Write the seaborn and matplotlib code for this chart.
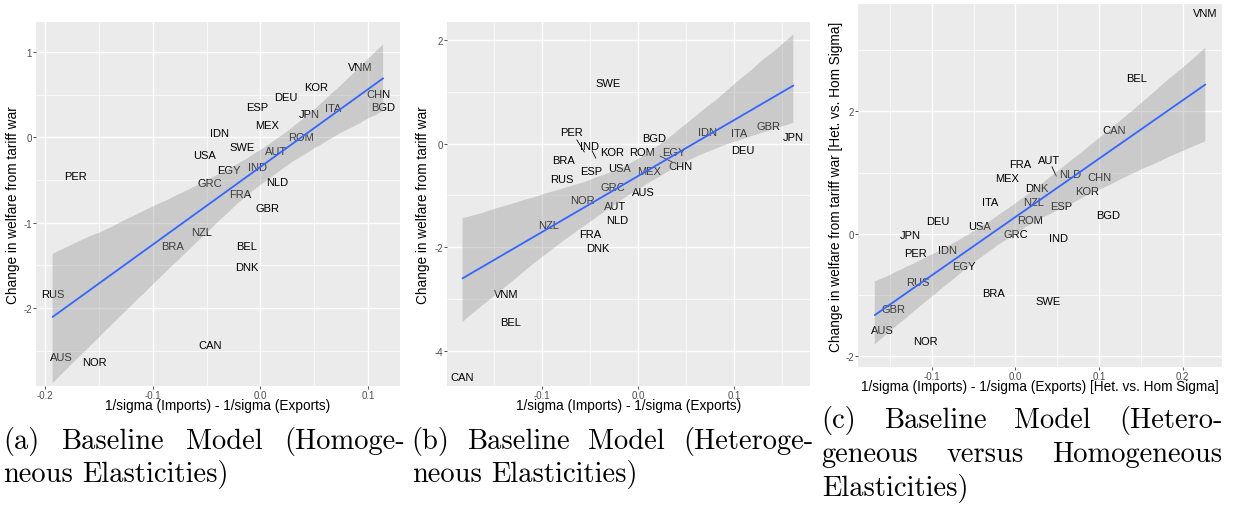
import numpy as np
import pandas as pd
import matplotlib
matplotlib.use("Agg")
import matplotlib.pyplot as plt
import seaborn as sns

# ---------------- data ----------------
countries_a = ["VNM", "KOR", "DEU", "ESP", "CHN", "ITA", "BGD", "JPN", "MEX", "IDN",
               "ROM", "SWE", "AUT", "USA", "PER", "EGY", "IND", "GRC", "NLD", "FRA",
               "GBR", "NZL", "BRA", "BEL", "DNK", "RUS", "CAN", "AUS", "NOR"]
x_a = [0.093, 0.052, 0.024, -0.003, 0.110, 0.068, 0.114, 0.045, 0.006, -0.038,
       0.038, -0.017, 0.015, -0.052, -0.172, -0.029, -0.003, -0.047, 0.016, -0.019,
       0.007, -0.055, -0.082, -0.013, -0.013, -0.193, -0.047, -0.185, -0.154]
y_a = [0.83, 0.59, 0.47, 0.36, 0.51, 0.34, 0.35, 0.27, 0.15, 0.05,
       0.00, -0.11, -0.16, -0.21, -0.45, -0.38, -0.35, -0.54, -0.52, -0.66,
       -0.83, -1.11, -1.27, -1.27, -1.52, -1.83, -2.43, -2.57, -2.63]

countries_b = ["SWE", "PER", "IND", "BGD", "IDN", "ITA", "GBR", "JPN", "DEU", "KOR",
               "ROM", "EGY", "BRA", "CHN", "USA", "ESP", "MEX", "RUS", "GRC", "AUS",
               "NOR", "AUT", "NLD", "NZL", "FRA", "DNK", "VNM", "BEL", "CAN"]
x_b = [-0.031, -0.056, -0.044, 0.017, 0.072, 0.106, 0.136, 0.162, 0.109, -0.027,
       0.004, 0.037, -0.078, 0.023, -0.019, -0.049, 0.012, -0.079, -0.026, 0.006,
       -0.058, -0.024, -0.022, -0.093, -0.050, -0.042, -0.137, -0.133, -0.183]
y_b = [1.17, -0.16, -0.28, 0.11, 0.23, 0.21, 0.35, 0.12, -0.12, -0.17,
       -0.17, -0.17, -0.32, -0.24, -0.47, -0.53, -0.52, -0.68, -0.83, -0.94,
       -1.08, -1.20, -1.47, -1.58, -1.74, -2.02, -2.90, -3.45, -4.36]

countries_c = ["VNM", "BEL", "CAN", "FRA", "AUT", "NLD", "MEX", "CHN", "DNK", "KOR",
               "ITA", "NZL", "ESP", "BGD", "DEU", "ROM", "USA", "JPN", "GRC", "IND",
               "PER", "IDN", "EGY", "RUS", "BRA", "SWE", "GBR", "AUS", "NOR"]
x_c = [0.227, 0.145, 0.118, 0.006, 0.049, 0.065, -0.010, 0.101, 0.026, 0.086,
       -0.030, 0.022, 0.055, 0.111, -0.093, 0.018, -0.043, -0.126, 0.001, 0.051,
       -0.119, -0.081, -0.062, -0.116, -0.026, 0.039, -0.146, -0.168, -0.107]
y_c = [3.49, 2.54, 1.70, 1.14, 0.94, 0.98, 0.91, 0.92, 0.75, 0.69,
       0.51, 0.52, 0.46, 0.31, 0.21, 0.23, 0.13, -0.02, -0.01, -0.07,
       -0.31, -0.27, -0.53, -0.79, -0.97, -1.10, -1.23, -1.57, -1.75]

# repelled label offsets (label position minus point, data units)
nudge_b = {"PER": (-0.013, 0.39), "IND": (-0.0065, 0.24), "CHN": (0.021, -0.19), "CAN": (0.0, -0.15)}
nudge_c = {"AUT": (-0.0088, 0.26), "VNM": (0.0, 0.12), "AUS": (0.009, 0.0)}
leaders_b = ["PER", "IND", "CHN"]
leaders_c = ["AUT"]

xticks_a = [-0.2, -0.1, 0.0, 0.1]
xticklabels_a = ["-0.2", "-0.1", "0.0", "0.1"]
yticks_a = [-2, -1, 0, 1]
yticklabels_a = ["-2", "-1", "0", "1"]
xticks_b = [-0.1, 0.0, 0.1]
xticklabels_b = ["-0.1", "0.0", "0.1"]
yticks_b = [-4, -2, 0, 2]
yticklabels_b = ["-4", "-2", "0", "2"]
xticks_c = [-0.1, 0.0, 0.1, 0.2]
xticklabels_c = ["-0.1", "0.0", "0.1", "0.2"]
yticks_c = [-2, 0, 2]
yticklabels_c = ["-2", "0", "2"]

xlabel_ab = "1/sigma (Imports) - 1/sigma (Exports)"
ylabel_ab = "Change in welfare from tariff war"
xlabel_c = "1/sigma (Imports) - 1/sigma (Exports) [Het. vs. Hom Sigma]"
ylabel_c = "Change in welfare from tariff war [Het. vs. Hom Sigma]"

caption_a = ["(a) Baseline Model (Homoge-", "neous Elasticities)"]
caption_b = ["(b) Baseline Model (Heteroge-", "neous Elasticities)"]
caption_c = ["(c) Baseline Model (Hetero-", "geneous versus Homogeneous", "Elasticities)"]

# ---------------- style ----------------
sns.set_theme(style="darkgrid")
plt.rcParams["font.family"] = ["Liberation Sans", "DejaVu Sans"]
plt.rcParams["axes.unicode_minus"] = False

W, H = 1233, 510
fig = plt.figure(figsize=(W / 100, H / 100), dpi=100)
fig.patch.set_facecolor("white")

def px_axes(left, top, right, bottom):
    return fig.add_axes([left / W, 1 - bottom / H, (right - left) / W, (bottom - top) / H])

def panel(ax, names, xs, ys, xlim, ylim, xt, xtl, yt, ytl, xminor, yminor,
          xlabel, ylabel, nudge, leaders, ylab_x, xlab_y):
    df = pd.DataFrame({"x": xs, "y": ys, "name": names})
    ax.set_facecolor("#EBEBEB")
    for s in ax.spines.values():
        s.set_visible(False)
    ax.grid(False)
    for v in xminor:
        ax.axvline(v, color="white", lw=0.5, zorder=0)
    for v in yminor:
        ax.axhline(v, color="white", lw=0.5, zorder=0)
    for v in xt:
        ax.axvline(v, color="white", lw=1.0, zorder=0)
    for v in yt:
        ax.axhline(v, color="white", lw=1.0, zorder=0)

    # labels (drawn below the ribbon so the band greys them)
    for _, r in df.iterrows():
        dx, dy = nudge.get(r["name"], (0.0, 0.0))
        ax.text(r["x"] + dx, r["y"] + dy, r["name"], ha="center", va="center",
                fontsize=8.0, color="black", zorder=2)
        if r["name"] in leaders:
            ax.plot([r["x"], r["x"] + 0.6 * dx], [r["y"], r["y"] + 0.6 * dy],
                    color="black", lw=0.6, zorder=2)

    n_coll = len(ax.collections)
    sns.regplot(data=df, x="x", y="y", ax=ax, scatter=False, ci=95, seed=0,
                n_boot=2000, truncate=True, color="#999999",
                line_kws={"color": "#3366FF", "lw": 1.3, "zorder": 4})
    for c in ax.collections[n_coll:]:
        c.set_facecolor("#999999")
        c.set_alpha(0.4)
        c.set_edgecolor("none")
        c.set_zorder(3)

    ax.set_xlim(*xlim)
    ax.set_ylim(*ylim)
    ax.set_xticks(xt)
    ax.set_xticklabels(xtl)
    ax.set_yticks(yt)
    ax.set_yticklabels(ytl)
    ax.tick_params(axis="both", which="major", length=2.2, width=0.6, color="#333333",
                   labelsize=7.0, labelcolor="#4D4D4D", pad=0.6, bottom=True, left=True)
    ax.set_xlabel(xlabel, fontsize=9.8, color="black")
    ax.set_ylabel(ylabel, fontsize=9.8, color="black")
    ax.xaxis.label.set_va("center")
    ax.yaxis.label.set_va("center")
    ax.yaxis.set_label_coords(ylab_x, 0.5)
    ax.xaxis.set_label_coords(0.5, xlab_y)

ax_a = px_axes(36, 23.3, 400, 386.7)
panel(ax_a, countries_a, x_a, y_a, (-0.2084, 0.1297), (-2.910, 1.348),
      xticks_a, xticklabels_a, yticks_a, yticklabels_a,
      [-0.15, -0.05, 0.05], [-2.5, -1.5, -0.5, 0.5],
      xlabel_ab, ylabel_ab, {}, [], -0.063, -0.053)

ax_b = px_axes(446.7, 23.3, 810, 386.7)
panel(ax_b, countries_b, x_b, y_b, (-0.1995, 0.1794), (-4.675, 2.344),
      xticks_b, xticklabels_b, yticks_b, yticklabels_b,
      [-0.15, -0.05, 0.05, 0.15], [-3, -1, 1],
      xlabel_ab, ylabel_ab, nudge_b, leaders_b, -0.0644, -0.053)

ax_c = px_axes(857.7, 5, 1221.7, 368.3)
panel(ax_c, countries_c, x_c, y_c, (-0.1884, 0.2466), (-2.188, 3.759),
      xticks_c, xticklabels_c, yticks_c, yticklabels_c,
      [-0.15, -0.05, 0.05, 0.15], [-1, 1, 3],
      xlabel_c, ylabel_c, nudge_c, leaders_c, -0.060, -0.052)

# ---------------- captions (justified, Computer Modern) ----------------
fig.canvas.draw()
renderer = fig.canvas.get_renderer()
CAP_FS = 20.5

def caption(lines, x0, x1, baseline0, step):
    for i, line in enumerate(lines):
        yb = baseline0 + i * step
        words = line.split(" ")
        texts = [fig.text(0, 1 - yb / H, w, fontsize=CAP_FS, family="cmr10",
                          ha="left", va="baseline", color="black") for w in words]
        widths = [t.get_window_extent(renderer).width for t in texts]
        last = i == len(lines) - 1
        if last or len(words) == 1:
            space = 0.333 * CAP_FS * 100 / 72
        else:
            space = (x1 - x0 - sum(widths)) / (len(words) - 1)
        x = x0
        for t, w in zip(texts, widths):
            t.set_x(x / W)
            x += w + space

caption(caption_a, 3, 405, 449, 32.7)
caption(caption_b, 411.7, 813, 449, 32.7)
caption(caption_c, 821.7, 1222.3, 428.3, 33.8)

fig.savefig("out.png", dpi=100, facecolor="white")
